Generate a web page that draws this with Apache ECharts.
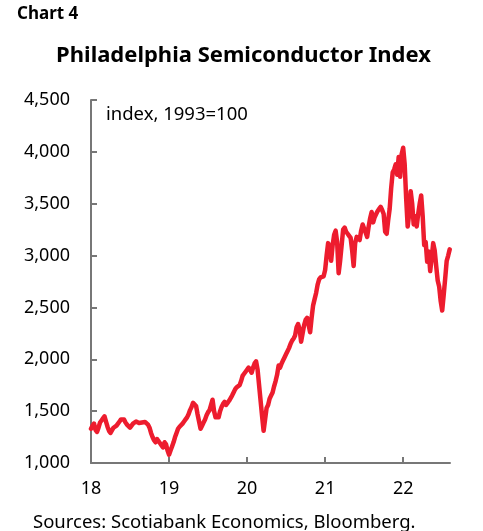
<!DOCTYPE html>
<html>
<head>
<meta charset="utf-8">
<script src="https://cdn.jsdelivr.net/npm/echarts@6/dist/echarts.min.js"></script>
<style>
html,body{margin:0;padding:0;background:#fff;}
#chart{width:483px;height:531px;}
</style>
</head>
<body>
<div id="chart"></div>
<script>
// Weekly index values (index, 1993=100)
const idx2018 = [1330,1360,1380,1320,1300,1340,1390,1410,1430,1450,1400,1350,1310,1290,1300,1340,1330,1360,1370,1400,1420,1430,1420,1390,1370,1360,1340,1350,1380,1390,1400,1395,1385,1375,1390,1400,1395,1385,1370,1340,1290,1250,1220,1200,1230,1220,1190,1170,1150,1200,1180,1120];
const idx2019 = [1080,1120,1160,1200,1250,1290,1330,1350,1360,1380,1400,1420,1440,1470,1510,1540,1580,1590,1550,1470,1400,1330,1360,1390,1420,1460,1490,1510,1560,1610,1500,1440,1450,1440,1500,1540,1570,1590,1560,1580,1600,1610,1650,1680,1710,1730,1740,1750,1790,1840,1860,1880];
const idx2020 = [1880,1920,1900,1870,1920,1960,1980,1900,1750,1600,1450,1310,1420,1530,1560,1620,1650,1680,1740,1790,1850,1940,1920,1960,1990,2020,2050,2080,2110,2150,2180,2200,2230,2310,2340,2290,2170,2250,2330,2380,2400,2330,2260,2400,2520,2580,2640,2720,2770,2790,2780,2800];
const idx2021 = [2860,3000,3120,3080,2950,3100,3200,3240,3130,2830,2950,3100,3250,3270,3230,3210,3190,3170,3050,2900,3120,3180,3170,3150,3240,3300,3310,3220,3180,3280,3360,3420,3320,3370,3400,3430,3450,3470,3440,3400,3230,3210,3340,3450,3650,3800,3830,3880,3780,3950,3760,3980];
const idx2022 = [4040,3880,3550,3280,3400,3620,3500,3300,3380,3280,3400,3500,3580,3380,3100,3130,2940,3040,2850,2980,3120,3050,2900,2760,2700,2560,2470,2620,2780,2950,3000,3060];
const yearStarts = [18,19,20,21,22];
const xTickLabels = ['18','19','20','21','22'];
const yTicks = [1000,1500,2000,2500,3000,3500,4000,4500];

const years = [idx2018, idx2019, idx2020, idx2021, idx2022];
const seriesData = [];
years.forEach((arr, k) => {
  arr.forEach((v, i) => seriesData.push([yearStarts[k] + i / 52, v]));
});

const chart = echarts.init(document.getElementById('chart'), null, {renderer: 'canvas'});
const FONT = '"Noto Sans", "Open Sans", sans-serif';
chart.setOption({
  animation: false,
  backgroundColor: '#ffffff',
  graphic: [
    {type: 'text', x: 17, y: 14, style: {text: 'Chart 4', font: 'bold 17px ' + FONT, fill: '#000', verticalAlign: 'middle'}},
    {type: 'text', x: 243.5, y: 56, style: {text: 'Philadelphia Semiconductor Index', font: 'bold 22px ' + FONT, fill: '#000', align: 'center', verticalAlign: 'middle'}},
    {type: 'text', x: 106, y: 115, style: {text: 'index, 1993=100', font: '18.5px ' + FONT, fill: '#000', verticalAlign: 'middle'}},
    {type: 'text', x: 33, y: 523, style: {text: 'Sources: Scotiabank Economics, Bloomberg.', font: '18.5px ' + FONT, fill: '#000', verticalAlign: 'middle'}}
  ],
  grid: {left: 91, right: 33, top: 100, bottom: 68},
  xAxis: {
    type: 'value', min: 18, max: 22.6, interval: 1,
    axisLine: {show: true, lineStyle: {color: '#777', width: 2}},
    axisTick: {show: true, inside: true, length: 6, lineStyle: {color: '#777', width: 2}},
    splitLine: {show: false},
    axisLabel: {
      margin: 17, fontFamily: FONT, fontSize: 18, color: '#000', showMaxLabel: false,
      formatter: v => { const i = yearStarts.indexOf(Math.round(v)); return Math.abs(v - Math.round(v)) < 1e-6 && i >= 0 ? xTickLabels[i] : ''; }
    }
  },
  yAxis: {
    type: 'value', min: 1000, max: 4500, interval: 500,
    axisLine: {show: true, lineStyle: {color: '#777', width: 2}},
    axisTick: {show: true, inside: true, length: 6, lineStyle: {color: '#777', width: 2}},
    splitLine: {show: false},
    axisLabel: {
      margin: 21, fontFamily: FONT, fontSize: 18, color: '#000',
      formatter: v => yTicks.includes(v) ? v.toLocaleString('en-US') : ''
    }
  },
  series: [{
    type: 'line', data: seriesData, showSymbol: false, symbol: 'none',
    lineStyle: {color: '#ED1C2E', width: 4.5, join: 'round', cap: 'round'}
  }]
});
</script>
</body>
</html>
